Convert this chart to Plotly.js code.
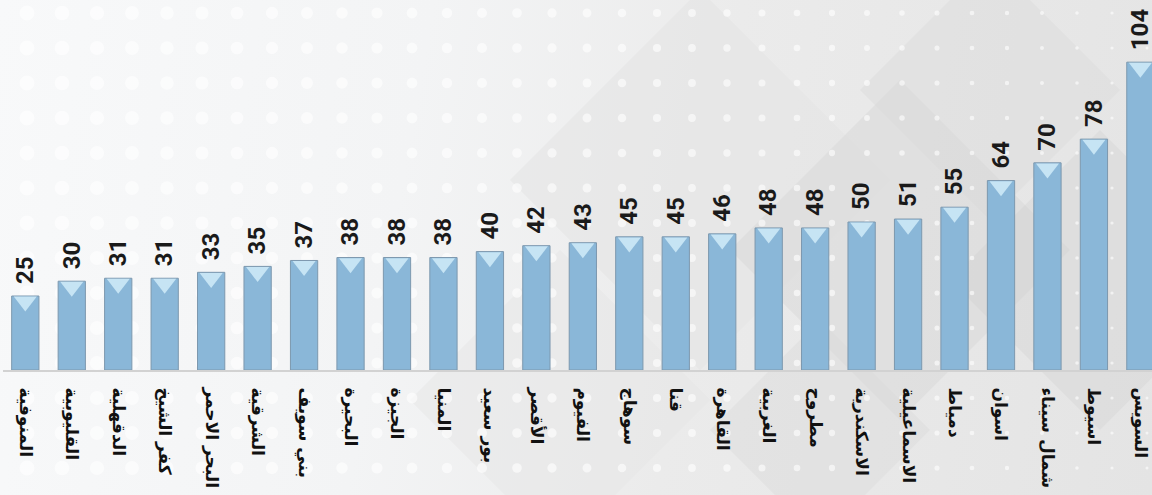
<!DOCTYPE html>
<html><head><meta charset="utf-8">
<script src="https://cdn.plot.ly/plotly-3.0.1.min.js"></script>
<style>
html,body{margin:0;padding:0;}
#chart{width:1152px;height:495px;background:linear-gradient(100deg,#f8f9fa 0%,#f3f4f5 35%,#ebebeb 60%,#e4e4e4 100%);}
</style>
</head><body><div id="chart"></div>
<script>
const categories = ["المنوفية","القليوبية","الدقهلية","كفر الشيخ","البحر الاحمر","الشرقية","بني سويف","البحيرة","الجيزة","المنيا","بور سعيد","الأقصر","الفيوم","سوهاج","قنا","القاهرة","الغربية","مطروح","الاسكندرية","الاسماعيلية","دمياط","اسوان","شمال سيناء","اسيوط","السويس"];
const values = [25,30,31,31,33,35,37,38,38,38,40,42,43,45,45,46,48,48,50,51,55,64,70,78,104];

const X_RANGE = [-0.48, 24.25];
const Y_MAX = 125;

const traces = [{
  type: 'bar', x: categories, y: values,
  marker: {color: '#8ab7d8', line: {color: '#7d98ae', width: 1}},
  hoverinfo: 'none'
}];

const PL = 3, PW = 1152 - 3, PH = 495 - 125;
const px = x => (x - PL) / PW, py = y => 1 - y / PH;
const shapes = [];
const diamonds = [
  [700, 180, 190, 'rgba(228,228,228,0.55)'],
  [900, 250, 170, 'rgba(210,210,210,0.35)'],
  [990, 90, 130, 'rgba(215,215,215,0.35)'],
  [1100, 280, 150, 'rgba(205,205,205,0.3)'],
  [560, 400, 150, 'rgba(230,230,230,0.5)'],
  [820, 430, 110, 'rgba(215,215,215,0.35)']
];
diamonds.forEach(([cx, cy, r, c]) => {
  shapes.push({type: 'path', xref: 'paper', yref: 'paper', layer: 'below',
    path: `M ${px(cx)} ${py(cy-r)} L ${px(cx+r)} ${py(cy)} L ${px(cx)} ${py(cy+r)} L ${px(cx-r)} ${py(cy)} Z`,
    fillcolor: c, line: {width: 0}});
});
for (let col = 0; col < 33; col++) {
  const cx = 27 + col * 35;
  const rad = Math.max(1.5, 7.5 - col * 0.19);
  for (let row = 0; row < 14; row++) {
    const cy = 13 + row * 35;
    shapes.push({type: 'circle', xref: 'paper', yref: 'paper', layer: 'below',
      x0: px(cx - rad), x1: px(cx + rad), y0: py(cy + rad), y1: py(cy - rad),
      fillcolor: 'rgba(255,255,255,0.6)', line: {width: 0}});
  }
}

const layout = {
  width: 1152, height: 495,
  margin: {l: PL, r: 0, t: 0, b: 125},
  paper_bgcolor: 'rgba(0,0,0,0)', plot_bgcolor: 'rgba(0,0,0,0)',
  showlegend: false, bargap: 0.413,
  xaxis: {range: X_RANGE, tickangle: 90, showgrid: false, zeroline: false,
    type: 'category', categoryorder: 'array', categoryarray: categories,
    showline: true, linecolor: '#d2d2d2', linewidth: 2, ticks: '', ticklabelstandoff: 12,
    tickfont: {family: 'DejaVu Sans', size: 17, color: '#111', weight: 'bold'}},
  yaxis: {range: [0, Y_MAX], visible: false, showgrid: false, zeroline: false},
  shapes: shapes
};

// value labels: one overlaying axis per bar, placed at the bar's value, carrying the bevel cap marker
categories.forEach((c, i) => {
  const n = i + 2;
  traces.push({
    type: 'scatter', mode: 'markers', x: [c], y: [values[i] - 1.9],
    xaxis: 'x' + n, yaxis: 'y',
    marker: {symbol: 'triangle-down', size: 20, color: '#c6e4f4', line: {width: 0}},
    hoverinfo: 'none'
  });
  layout['xaxis' + n] = {
    overlaying: 'x', anchor: 'free', position: values[i] / Y_MAX, side: 'top',
    type: 'category', categoryorder: 'array', categoryarray: categories, range: X_RANGE,
    tickmode: 'array', tickvals: [c], ticktext: [String(values[i])], tickangle: -90,
    showline: false, showgrid: false, zeroline: false, ticks: '', ticklabelstandoff: 12,
    tickfont: {family: 'Roboto', size: 24, color: '#1a1a1a', weight: 'bold'}
  };
});

Plotly.newPlot('chart', traces, layout, {displayModeBar: false});
</script></body></html>
